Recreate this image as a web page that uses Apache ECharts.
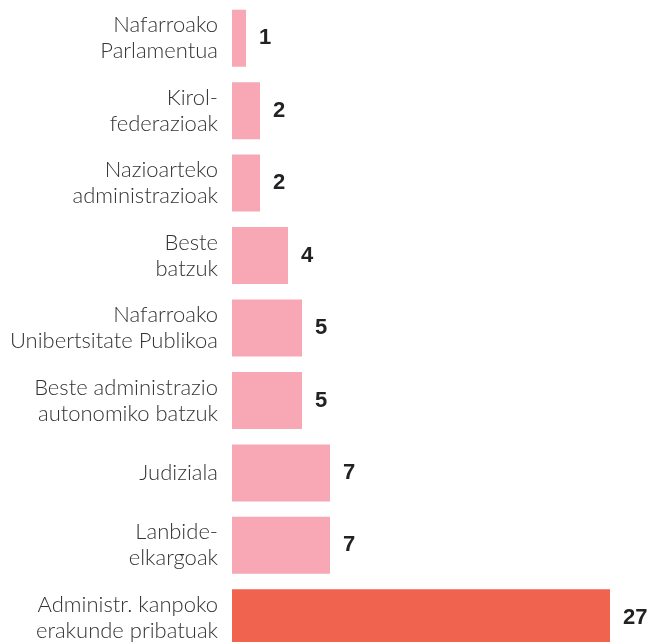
<!DOCTYPE html>
<html>
<head>
<meta charset="utf-8">
<script src="https://cdn.jsdelivr.net/npm/echarts@6/dist/echarts.min.js"></script>
<style>
  html, body { margin: 0; padding: 0; background: #fff; }
  #chart { width: 653px; height: 642px; }
</style>
</head>
<body>
<div id="chart"></div>
<script>
// categories top to bottom, line breaks as in the original labels
var categories = [
  'Nafarroako\nParlamentua',
  'Kirol-\nfederazioak',
  'Nazioarteko\nadministrazioak',
  'Beste\nbatzuk',
  'Nafarroako\nUnibertsitate Publikoa',
  'Beste administrazio\nautonomiko batzuk',
  'Judiziala',
  'Lanbide-\nelkargoak',
  'Administr. kanpoko\nerakunde pribatuak'
]
var values = [1, 2, 2, 4, 5, 5, 7, 7, 27]

var chart = echarts.init(document.getElementById('chart'))
chart.setOption({
  animation: false,
  grid: {
    left: 232,
    right: 1,
    top: 2,
    height: 652,
    containLabel: false,
    outerBoundsMode: 'none'
  },
  xAxis: {
    type: 'value',
    min: 0,
    max: 30,
    show: false
  },
  yAxis: {
    type: 'category',
    data: categories,
    inverse: true,
    axisLine: { show: false },
    axisTick: { show: false },
    axisLabel: {
      margin: 14,
      color: '#333',
      fontFamily: 'Lato',
      fontWeight: 300,
      fontSize: 22,
      lineHeight: 26,
      align: 'right'
    }
  },
  series: [
    {
      type: 'bar',
      data: values,
      barWidth: 57,
      itemStyle: {
        color: function (p) {
          return p.dataIndex === values.length - 1 ? '#f0634f' : '#f7a8b4'
        }
      },
      label: {
        show: true,
        position: 'right',
        distance: 13,
        color: '#222',
        fontFamily: 'Liberation Sans',
        fontWeight: 'bold',
        fontSize: 22
      }
    }
  ]
})
</script>
</body>
</html>
